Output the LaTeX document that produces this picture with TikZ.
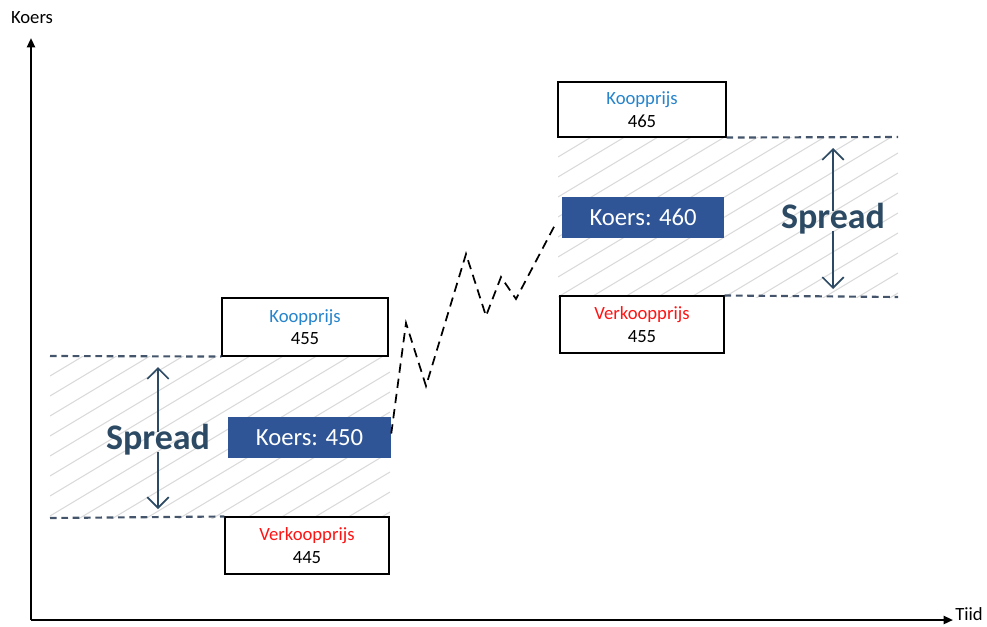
\documentclass[tikz,border=0pt]{standalone}
\usepackage{fontspec}
\setmainfont{Carlito}
\usetikzlibrary{arrows.meta}
\definecolor{bluetxt}{RGB}{38,132,204}
\definecolor{redtxt}{RGB}{255,20,20}
\definecolor{boxfill}{RGB}{47,85,151}
\definecolor{spreadc}{RGB}{44,74,99}
\definecolor{dashc}{RGB}{68,84,106}
\definecolor{hatchc}{RGB}{218,218,218}
\tikzset{
  pricebox/.style={draw=black, line width=0.8pt, fill=white, align=center, font=\fontsize{14}{17}\selectfont, inner sep=0pt},
  koersbox/.style={fill=boxfill, text=white, font=\fontsize{18.5}{22}\selectfont, inner sep=0pt},
  spreadtxt/.style={text=spreadc, font=\fontsize{27}{30}\selectfont\bfseries, inner sep=0pt},
  spreadarrow/.style={draw=spreadc, line width=1.3pt, -{Straight Barb[length=8pt,width=16pt,line width=1.3pt]}},
  bandline/.style={draw=dashc, line width=1.6pt, dash pattern=on 5pt off 3.5pt},
  axis/.style={line width=1.6pt, -{Triangle[length=7pt,width=6pt]}},
  zig/.style={line width=1.3pt, dash pattern=on 7pt off 4.5pt},
  axlabel/.style={font=\fontsize{14}{16}\selectfont, inner sep=0pt}
}
\begin{document}
\begin{tikzpicture}[x=0.75pt,y=-0.75pt]
\useasboundingbox (0,0) rectangle (987,626);
% hatched bands
\begin{scope}
  \clip (50,356) rectangle (390,518);
  \foreach \c in {356,376,...,740} {\draw[hatchc, line width=0.8pt] (50,\c) -- (390,\c-204);}
\end{scope}
\begin{scope}
  \clip (558,137) rectangle (898,297);
  \foreach \c in {137,157,...,520} {\draw[hatchc, line width=0.8pt] (558,\c) -- (898,\c-204);}
\end{scope}
% axes
\coordinate (origin) at (31,620);
\coordinate (ytop) at (31,38);
\coordinate (xend) at (953,620);
\draw[axis] (origin) -- (ytop);
\draw[axis] (origin) -- (xend);
\node[axlabel] (ylab) at (32,18) {Koers};
\node[axlabel] (xlab) at (969,614) {Tiid};
% left boxes
\node[pricebox, minimum width=124.5pt, minimum height=43.5pt] (kl) at (305,327) {\textcolor{bluetxt}{Koopprijs}\\455};
\node[pricebox, minimum width=123pt, minimum height=42.75pt] (vl) at (307,545.5) {\textcolor{redtxt}{Verkoopprijs}\\445};
\node[koersbox, minimum width=122.25pt, minimum height=30.75pt] (k450) at (309.5,437.5) {Koers: 450};
% right boxes
\node[pricebox, minimum width=126pt, minimum height=41.25pt] (kr) at (642,109.5) {\textcolor{bluetxt}{Koopprijs}\\465};
\node[pricebox, minimum width=123pt, minimum height=42.75pt] (vr) at (642,324.5) {\textcolor{redtxt}{Verkoopprijs}\\455};
\node[koersbox, minimum width=121.5pt, minimum height=30.75pt] (k460) at (643,217.5) {Koers: 460};
% band dashed lines
\coordinate (lt) at (50,356);
\coordinate (lb) at (50,518);
\coordinate (rt) at (898,137);
\coordinate (rb) at (898,297);
\draw[bandline] (lt) -- (kl.south west);
\draw[bandline] (lb) -- (vl.north west);
\draw[bandline] (kr.south east) -- (rt);
\draw[bandline] (vr.north east) -- (rb);
% spread labels
\node[spreadtxt] (sl) at (158,440) {Spread};
\node[spreadtxt] (sr) at (833,219) {Spread};
\coordinate (slu) at (158,367);
\coordinate (sld) at (158,509);
\coordinate (sru) at (833,148);
\coordinate (srd) at (833,289);
\draw[spreadarrow] ([yshift=-6pt]sl.north) -- (slu);
\draw[spreadarrow] ([yshift=3pt]sl.south) -- (sld);
\draw[spreadarrow] ([yshift=-6pt]sr.north) -- (sru);
\draw[spreadarrow] ([yshift=3pt]sr.south) -- (srd);
% zigzag
\coordinate (z1) at (406,323);
\coordinate (z2) at (426,386);
\coordinate (z3) at (466,254);
\coordinate (z4) at (486,316);
\coordinate (z5) at (501,277);
\coordinate (z6) at (516,299);
\coordinate (z7) at (556,223);
\draw[zig] ([yshift=3pt]k450.east) -- (z1) -- (z2) -- (z3) -- (z4) -- (z5) -- (z6) -- (z7);
\end{tikzpicture}
\end{document}
